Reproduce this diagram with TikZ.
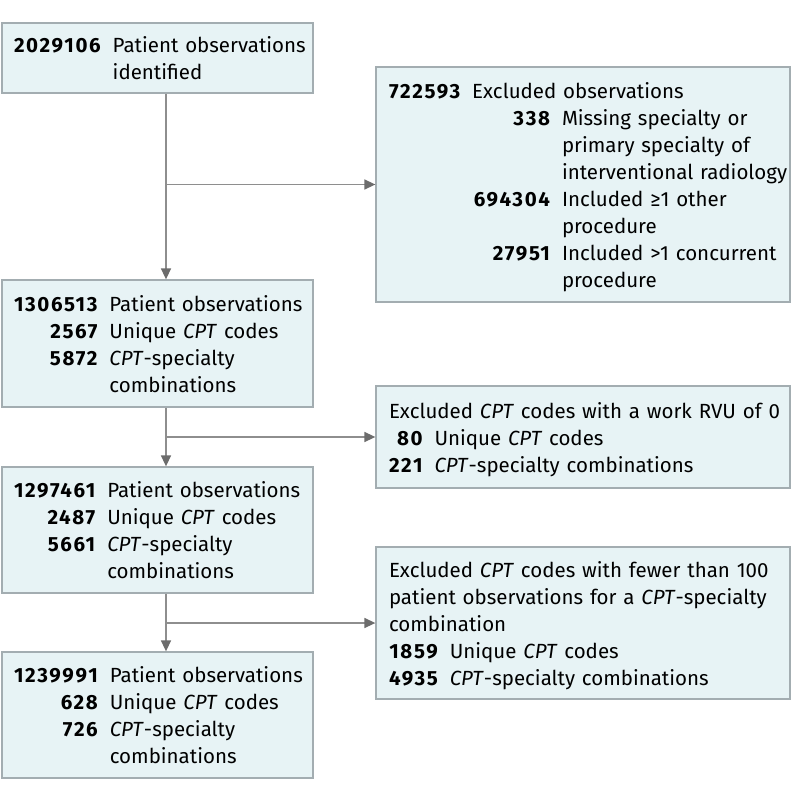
\documentclass[tikz,border=0pt]{standalone}
\usepackage{fontspec}
\setmainfont{Fira Sans}
\newfontfamily\numfont{Fira Sans}[LetterSpace=8]
\usetikzlibrary{arrows.meta}
\definecolor{boxfill}{HTML}{E7F3F5}
\definecolor{boxline}{HTML}{A3ADB1}
\definecolor{arrowgray}{HTML}{8E8E8E}
\definecolor{arrowtip}{HTML}{6C6C6C}
\newcommand{\cptcode}{\textit{CPT}}
\newcommand{\obsnum}[1]{{\numfont\bfseries #1}}
\tikzset{
    flowbox/.style={draw=boxline, fill=boxfill, line width=1.3pt,
        font=\fontsize{20.5pt}{27pt}\selectfont, inner ysep=0pt,
        execute at begin node={\vspace*{-6pt}}},
    mainbox/.style={flowbox, minimum width=311pt, inner xsep=12pt, text width=287pt},
    exclbox/.style={flowbox, minimum width=414pt, inner xsep=13pt, text width=388pt},
    flowarrow/.style={draw=arrowgray, line width=1.5pt,
        -{Triangle[length=11pt,width=10pt,color=arrowtip]}},
}

\begin{document}
\begin{tikzpicture}[x=1pt,y=-1pt]
    \useasboundingbox (0,0) rectangle (794,797);

    \node[mainbox,minimum height=70pt] (ident) at (157.5,58) {%
        \begin{tabular}{@{}r@{\hspace{12pt}}l@{}}
        \obsnum{2029106} & Patient observations\\
                         & identified
        \end{tabular}};
    \node[exclbox,minimum height=235pt,inner xsep=11pt] (excl1) at (583,184.5) {%
        \begin{tabular}{@{}r@{\hspace{12pt}}l@{}}
        \multicolumn{2}{@{}l@{}}{\obsnum{722593}\hspace{12pt}Excluded observations}\\
        \makebox[161pt][r]{\obsnum{338}} & Missing specialty or\\
                         & primary specialty of\\
                         & interventional radiology\\
        \obsnum{694304}  & Included ≥1 other\\
                         & procedure\\
        \obsnum{27951}   & Included >1 concurrent\\
                         & procedure
        \end{tabular}};
    \node[mainbox,minimum height=127pt] (obs1) at (157.5,343.5) {%
        \begin{tabular}{@{}r@{\hspace{12pt}}l@{}}
        \obsnum{1306513} & Patient observations\\
        \obsnum{2567}    & Unique \cptcode{} codes\\
        \obsnum{5872}    & \cptcode-specialty\\
                         & combinations
        \end{tabular}};
    \node[exclbox,minimum height=102pt] (excl2) at (583,437) {%
        \begin{tabular}{@{}r@{\hspace{12pt}}l@{}}
        \multicolumn{2}{@{}l@{}}{Excluded \cptcode{} codes with a work RVU of 0}\\
        \obsnum{80}  & Unique \cptcode{} codes\\
        \obsnum{221} & \cptcode-specialty combinations
        \end{tabular}};
    \node[mainbox,minimum height=126pt] (obs2) at (157.5,530) {%
        \begin{tabular}{@{}r@{\hspace{12pt}}l@{}}
        \obsnum{1297461} & Patient observations\\
        \obsnum{2487}    & Unique \cptcode{} codes\\
        \obsnum{5661}    & \cptcode-specialty\\
                         & combinations
        \end{tabular}};
    \node[exclbox,minimum height=152pt] (excl3) at (583,623) {%
        \begin{tabular}{@{}r@{\hspace{12pt}}l@{}}
        \multicolumn{2}{@{}l@{}}{Excluded \cptcode{} codes with fewer than 100}\\
        \multicolumn{2}{@{}l@{}}{patient observations for a \cptcode-specialty}\\
        \multicolumn{2}{@{}l@{}}{combination}\\
        \obsnum{1859} & Unique \cptcode{} codes\\
        \obsnum{4935} & \cptcode-specialty combinations
        \end{tabular}};
    \node[mainbox,minimum height=126pt] (obs3) at (157.5,715) {%
        \begin{tabular}{@{}r@{\hspace{12pt}}l@{}}
        \obsnum{1239991} & Patient observations\\
        \obsnum{628}     & Unique \cptcode{} codes\\
        \obsnum{726}     & \cptcode-specialty\\
                         & combinations
        \end{tabular}};

    \coordinate (trunk) at (166,0);

    \draw[flowarrow] (ident.south -| trunk) -- (obs1.north -| trunk);
    \draw[flowarrow] (excl1.west -| trunk) -- (excl1.west);
    \draw[flowarrow] (obs1.south -| trunk) -- (obs2.north -| trunk);
    \draw[flowarrow] (excl2.west -| trunk) -- (excl2.west);
    \draw[flowarrow] (obs2.south -| trunk) -- (obs3.north -| trunk);
    \draw[flowarrow] (excl3.west -| trunk) -- (excl3.west);
\end{tikzpicture}
\end{document}
